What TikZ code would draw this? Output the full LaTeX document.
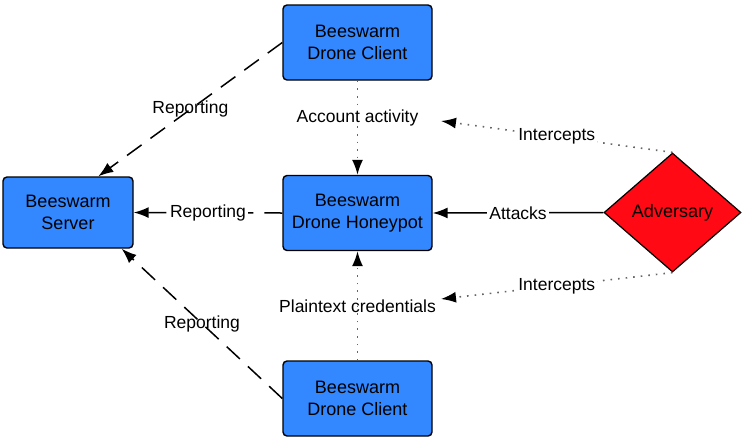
\documentclass[tikz,border=0pt]{standalone}
\usepackage{fontspec}
\setmainfont{Liberation Sans}
\usetikzlibrary{arrows.meta,shapes.geometric}
\definecolor{beeblue}{RGB}{51,136,255}
\definecolor{advred}{RGB}{255,10,20}
\tikzset{
  beebox/.style={draw=black,line width=1.4pt,rounded corners=4pt,fill=beeblue,
    align=center,font=\fontsize{18}{22}\selectfont,inner sep=0pt,
    minimum width=149pt,minimum height=75pt},
  advbox/.style={diamond,draw=black,line width=1.2pt,fill=advred,inner sep=0pt,
    font=\fontsize{18}{22}\selectfont,minimum width=137pt,minimum height=119pt},
  lbl/.style={font=\fontsize{17.5}{20}\selectfont,text=black,inner sep=2pt},
  tip/.style={-{Latex[length=15pt,width=11pt,color=black]}},
  report/.style={tip,line width=1.5pt,dash pattern=on 18pt off 11pt},
  watch/.style={tip,line width=1.6pt,black!60,dash pattern=on 1.6pt off 6pt},
  attack/.style={tip,line width=1.5pt}
}
\begin{document}
\begin{tikzpicture}[x=1pt,y=-1pt]
\useasboundingbox (0,0) rectangle (742,440);
\node[beebox] (tcl) at (357.5,42.5) {Beeswarm\\Drone Client};
\node[beebox] (hp) at (357.5,213) {Beeswarm\\Drone Honeypot};
\node[beebox] (bcl) at (357.5,398.5) {Beeswarm\\Drone Client};
\node[beebox,minimum width=130pt,minimum height=71pt] (srv) at (68,212.5) {Beeswarm\\Server};
\node[advbox] (adv) at (672.5,212.5) {Adversary};
\coordinate (ia) at (441,121);
\coordinate (ib) at (441,299);

\draw[report] (tcl.west) -- node[lbl] {Reporting} (srv.50);
\draw[report] (bcl.west) -- node[lbl] {Reporting} (srv.-34);
\draw[report] (hp.west) -- node[lbl,fill=white] {Reporting} (srv.east);
\draw[watch] (tcl.south) -- node[lbl,pos=0.4] {Account activity} (hp.north);
\draw[watch] (bcl.north) -- node[lbl] {Plaintext credentials} (hp.south);
\draw[attack] (adv.west) -- node[lbl,fill=white] {Attacks} (hp.east);
\draw[watch] (adv.north) -- node[lbl,fill=white] {Intercepts} (ia);
\draw[watch] (adv.south) -- node[lbl,fill=white] {Intercepts} (ib);
\end{tikzpicture}
\end{document}
